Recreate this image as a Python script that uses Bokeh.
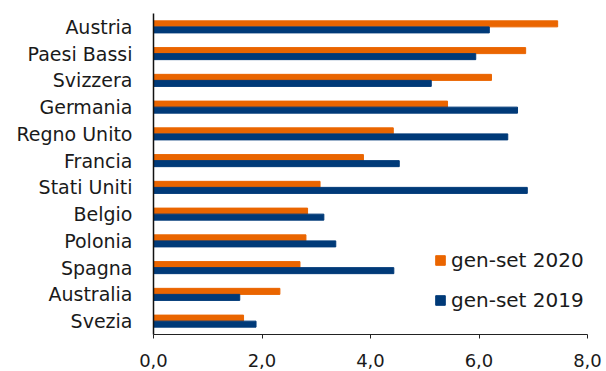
from bokeh.plotting import figure
from bokeh.models import ColumnDataSource, FactorRange, Range1d, FixedTicker, CustomJSTickFormatter, Legend, LegendItem
from bokeh.transform import dodge
from bokeh.embed import file_html
from bokeh.resources import INLINE

countries = ["Austria", "Paesi Bassi", "Svizzera", "Germania", "Regno Unito", "Francia",
             "Stati Uniti", "Belgio", "Polonia", "Spagna", "Australia", "Svezia"]
gen_set_2020 = [7.45, 6.86, 6.23, 5.42, 4.42, 3.87, 3.07, 2.84, 2.81, 2.70, 2.33, 1.66]
gen_set_2019 = [6.19, 5.94, 5.12, 6.71, 6.53, 4.53, 6.89, 3.14, 3.36, 4.43, 1.59, 1.89]
x_ticks = [0, 2, 4, 6, 8]
series_names = ["gen-set 2020", "gen-set 2019"]

ORANGE = "#EA6500"
NAVY = "#003A78"
FONT = "DejaVu Sans"

source = ColumnDataSource(dict(country=countries, v2020=gen_set_2020, v2019=gen_set_2019))

p = figure(y_range=FactorRange(*list(reversed(countries)), range_padding=0),
           x_range=Range1d(0, 8),
           frame_width=434, frame_height=321,
           min_border_left=153, min_border_right=19, min_border_top=13, min_border_bottom=37,
           output_backend="svg", toolbar_location=None)

r1 = p.hbar(y=dodge("country", 0.1125, range=p.y_range), right="v2020", left=0, height=0.225,
            source=source, color=ORANGE)
r2 = p.hbar(y=dodge("country", -0.1125, range=p.y_range), right="v2019", left=0, height=0.225,
            source=source, color=NAVY)

p.outline_line_color = None
p.xgrid.grid_line_color = None
p.ygrid.grid_line_color = None
p.background_fill_color = "white"
p.border_fill_color = "white"

p.xaxis.ticker = FixedTicker(ticks=x_ticks)
p.xaxis.formatter = CustomJSTickFormatter(code="return tick.toFixed(1).replace('.', ',');")
p.xaxis.minor_tick_line_color = None
p.xaxis.major_tick_out = 4
p.xaxis.major_tick_in = 0
p.xaxis.axis_line_color = "#222222"
p.xaxis.major_tick_line_color = "#222222"
p.xaxis.major_label_text_font = FONT
p.xaxis.major_label_text_font_size = "18px"
p.xaxis.major_label_text_color = "#1a1a1a"
p.xaxis.major_label_standoff = 15

p.yaxis.major_tick_line_color = None
p.yaxis.minor_tick_line_color = None
p.yaxis.axis_line_color = "#111111"
p.yaxis.axis_line_width = 1.5
p.yaxis.major_label_text_font = FONT
p.yaxis.major_label_text_font_size = "19px"
p.yaxis.major_label_text_color = "#1a1a1a"
p.yaxis.major_label_standoff = 21
p.yaxis.major_tick_in = 0
p.yaxis.major_tick_out = 0

legend = Legend(items=[LegendItem(label=series_names[0], renderers=[r1]),
                       LegendItem(label=series_names[1], renderers=[r2])],
                location=(281, 22), orientation="vertical",
                glyph_width=12, glyph_height=12, label_height=20, spacing=16,
                label_standoff=5, padding=0, margin=0,
                border_line_color=None, background_fill_alpha=0,
                label_text_font=FONT, label_text_font_size="20px", label_text_color="#1a1a1a")
p.add_layout(legend)

open("out.html", "w").write(file_html(p, INLINE))
